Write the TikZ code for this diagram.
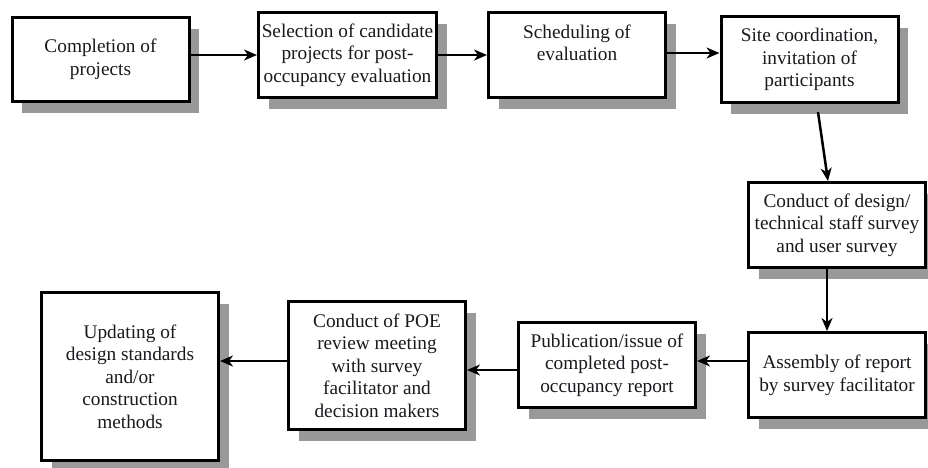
\documentclass[tikz,border=0pt]{standalone}
\usepackage{fontspec}
\setmainfont{Liberation Serif}
\usetikzlibrary{arrows.meta,shadows}
\definecolor{shadowgray}{RGB}{153,153,153}
\definecolor{txt}{RGB}{25,25,30}
\tikzset{
  box/.style={draw=black, line width=3pt, fill=white, align=center, inner sep=0pt,
    text=txt, minimum width=177pt,
    font=\fontsize{19.3pt}{22.6pt}\selectfont,
    general shadow={fill=shadowgray, shadow xshift=10pt, shadow yshift=-11pt}},
  arr/.style={line width=2.5pt, -{Stealth[length=13pt,width=11pt,inset=4pt]}},
}
\begin{document}
\begin{tikzpicture}[x=1pt,y=-1pt]
\useasboundingbox (0,0) rectangle (928,467);
\node[box, minimum height=84pt] (n1) at (100.5,59.5) {Completion of\\projects};
\node[box, minimum width=178pt, minimum height=85pt] (n2) at (347.5,55) {Selection of candidate\\projects for post-\\occupancy evaluation};
\node[box, minimum height=85pt] (n3) at (577,55) {Scheduling of\\evaluation\\[2pt]};
\node[box, minimum height=86pt] (n4) at (809.5,59.5) {Site coordination,\\invitation of\\participants};
\node[box, minimum height=85pt] (n5) at (837,225) {Conduct of design/\\technical staff survey\\and user survey};
\node[box, minimum height=85pt] (n6) at (837,375) {Assembly of report\\by survey facilitator};
\node[box, minimum height=85pt] (n7) at (607,365) {Publication/issue of\\completed post-\\occupancy report};
\node[box, minimum height=128pt] (n8) at (377,365.5) {Conduct of POE\\review meeting\\with survey\\facilitator and\\decision makers};
\node[box, minimum height=168pt] (n9) at (130,376.5) {Updating of\\design standards\\and/or\\construction\\methods};
\draw[arr] (n1.east |- n2.west) -- (n2.west);
\draw[arr] (n2.east) -- (n3.west);
\draw[arr] ([yshift=2pt]n3.east) -- ([yshift=2pt]n3.east -| n4.west);
\draw[arr] ([xshift=8.5pt,yshift=-8pt]n4.south) -- ([xshift=-9pt]n5.north);
\draw[arr] ([xshift=-10pt]n5.south) -- ([xshift=-10pt]n6.north);
\draw[arr] ([yshift=14pt]n6.west) -- ([yshift=14pt]n6.west -| n7.east);
\draw[arr] ([yshift=-5pt]n7.west) -- ([yshift=-5pt]n7.west -| n8.east);
\draw[arr] ([yshift=4.5pt]n8.west) -- ([yshift=4.5pt]n8.west -| n9.east);
\end{tikzpicture}
\end{document}
